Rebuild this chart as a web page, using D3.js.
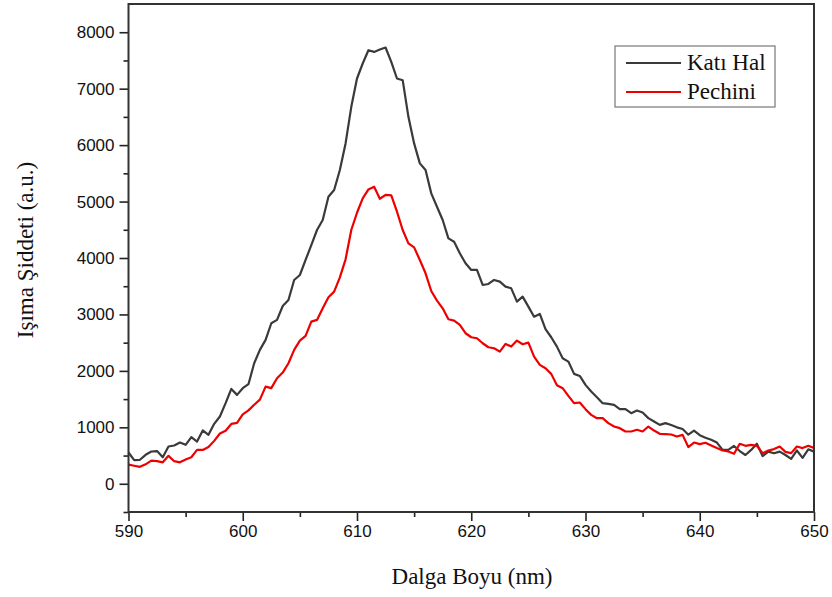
<!DOCTYPE html>
<html><head><meta charset="utf-8">
<script src="https://cdn.jsdelivr.net/npm/d3@7"></script>
<style>html,body{margin:0;padding:0;background:#fff;}</style>
</head><body>
<svg id="chart" width="832" height="597"></svg>
<script>
const wavelength = d3.range(590, 650.001, 0.5);
const katiHal = [554,420,425,513,572,580,470,660,678,731,690,826,749,944,867,1062,1192,1428,1681,1575,1693,1764,2136,2372,
2550,2844,2903,3150,3257,3611,3699,3965,4230,4496,4673,5085,5204,5558,6030,6678,7180,7446,7681,7651,7693,7729,7474,7180,
7150,6501,6030,5676,5558,5145,4908,4673,4348,4289,4083,3906,3788,3788,3522,3540,3611,3581,3493,3463,3227,3315,3138,2960,
3009,2738,2596,2430,2225,2165,1947,1911,1752,1634,1534,1428,1416,1398,1322,1322,1251,1298,1263,1163,1103,1044,1074,1040,
1000,970,870,940,860,815,780,730,600,600,670,580,510,600,710,490,570,540,570,510,440,590,460,610,570];
const pechini = [340,320,300,345,410,400,380,495,400,380,430,470,600,600,650,760,890,940,1060,1080,1230,1300,1400,1490,
1722,1694,1870,1970,2136,2372,2536,2619,2873,2903,3109,3304,3404,3658,3977,4496,4802,5056,5215,5262,5050,5120,5110,4820,
4496,4260,4189,3965,3729,3416,3245,3109,2914,2891,2814,2667,2596,2578,2490,2419,2401,2342,2478,2430,2537,2472,2501,2253,
2106,2047,1947,1746,1693,1557,1428,1440,1322,1221,1162,1162,1074,1014,985,926,926,956,926,1014,943,885,880,873,
837,866,650,731,702,726,678,632,590,572,531,708,673,690,673,543,590,614,660,566,543,660,632,673,632];
const seriesNames = ["Katı Hal", "Pechini"];
const seriesColors = ["#3a3a3a", "#ee0000"];
const xTicks = [590, 600, 610, 620, 630, 640, 650];
const yTicks = [0, 1000, 2000, 3000, 4000, 5000, 6000, 7000, 8000];
const xTitle = "Dalga Boyu (nm)";
const yTitle = "Işıma Şiddeti (a.u.)";

const svg = d3.select("#chart");
const L = 128.5, R = 814, T = 4, B = 512;
const x = d3.scaleLinear().domain([590, 650]).range([L, R]);
const y = d3.scaleLinear().domain([-500, 8500]).range([B, T]);

const xAxis = d3.axisBottom(x).tickValues(xTicks).tickSize(9).tickPadding(4).tickFormat(d3.format("d"));
const xMinor = d3.axisBottom(x).tickValues(d3.range(595, 650, 10)).tickSize(5).tickFormat("");
const yAxis = d3.axisLeft(y).tickValues(yTicks).tickSize(9).tickPadding(5).tickFormat(d3.format("d"));
const yMinor = d3.axisLeft(y).tickValues([-500,500,1500,2500,3500,4500,5500,6500,7500]).tickSize(5).tickFormat("");

function style(g){
  g.select(".domain").remove();
  g.selectAll(".tick line").attr("stroke","#222").attr("stroke-width",1.6);
  g.selectAll(".tick text").attr("fill","#111").style("font-family","'Liberation Sans', Arial, sans-serif").style("font-size","17px");
}
svg.append("g").attr("transform",`translate(0,${B})`).call(xAxis).call(style);
svg.append("g").attr("transform",`translate(0,${B})`).call(xMinor).call(style);
svg.append("g").attr("transform",`translate(${L},0)`).call(yAxis).call(style);
svg.append("g").attr("transform",`translate(${L},0)`).call(yMinor).call(style);

const line = d3.line().x((d,i)=>x(wavelength[i])).y(d=>y(d));
[katiHal, pechini].forEach((s,k)=>{
  svg.append("path").datum(s).attr("d", line).attr("fill","none")
    .attr("stroke", seriesColors[k]).attr("stroke-width",2.2).attr("stroke-linejoin","round");
});

svg.append("rect").attr("x",L).attr("y",T).attr("width",R-L).attr("height",B-T)
  .attr("fill","none").attr("stroke","#333").attr("stroke-width",2);

const serif = "'Liberation Serif','Times New Roman',serif";
svg.append("text").attr("x",472).attr("y",584).attr("text-anchor","middle")
  .style("font-family",serif).style("font-size","23px").attr("fill","#111").text(xTitle);
svg.append("text").attr("transform","translate(33,250) rotate(-90)").attr("text-anchor","middle")
  .style("font-family",serif).style("font-size","23px").attr("fill","#111").text(yTitle);

const lg = svg.append("g");
lg.append("rect").attr("x",615).attr("y",46).attr("width",160).attr("height",61)
  .attr("fill","#fff").attr("stroke","#777").attr("stroke-width",1.2);
seriesNames.forEach((n,k)=>{
  const yy = 63 + k*29;
  lg.append("line").attr("x1",626).attr("x2",681).attr("y1",yy).attr("y2",yy)
    .attr("stroke",seriesColors[k]).attr("stroke-width",2.2);
  lg.append("text").attr("x",687).attr("y",yy+7).attr("fill","#111")
    .style("font-family",serif).style("font-size","23px").text(n);
});
</script>
</body></html>
